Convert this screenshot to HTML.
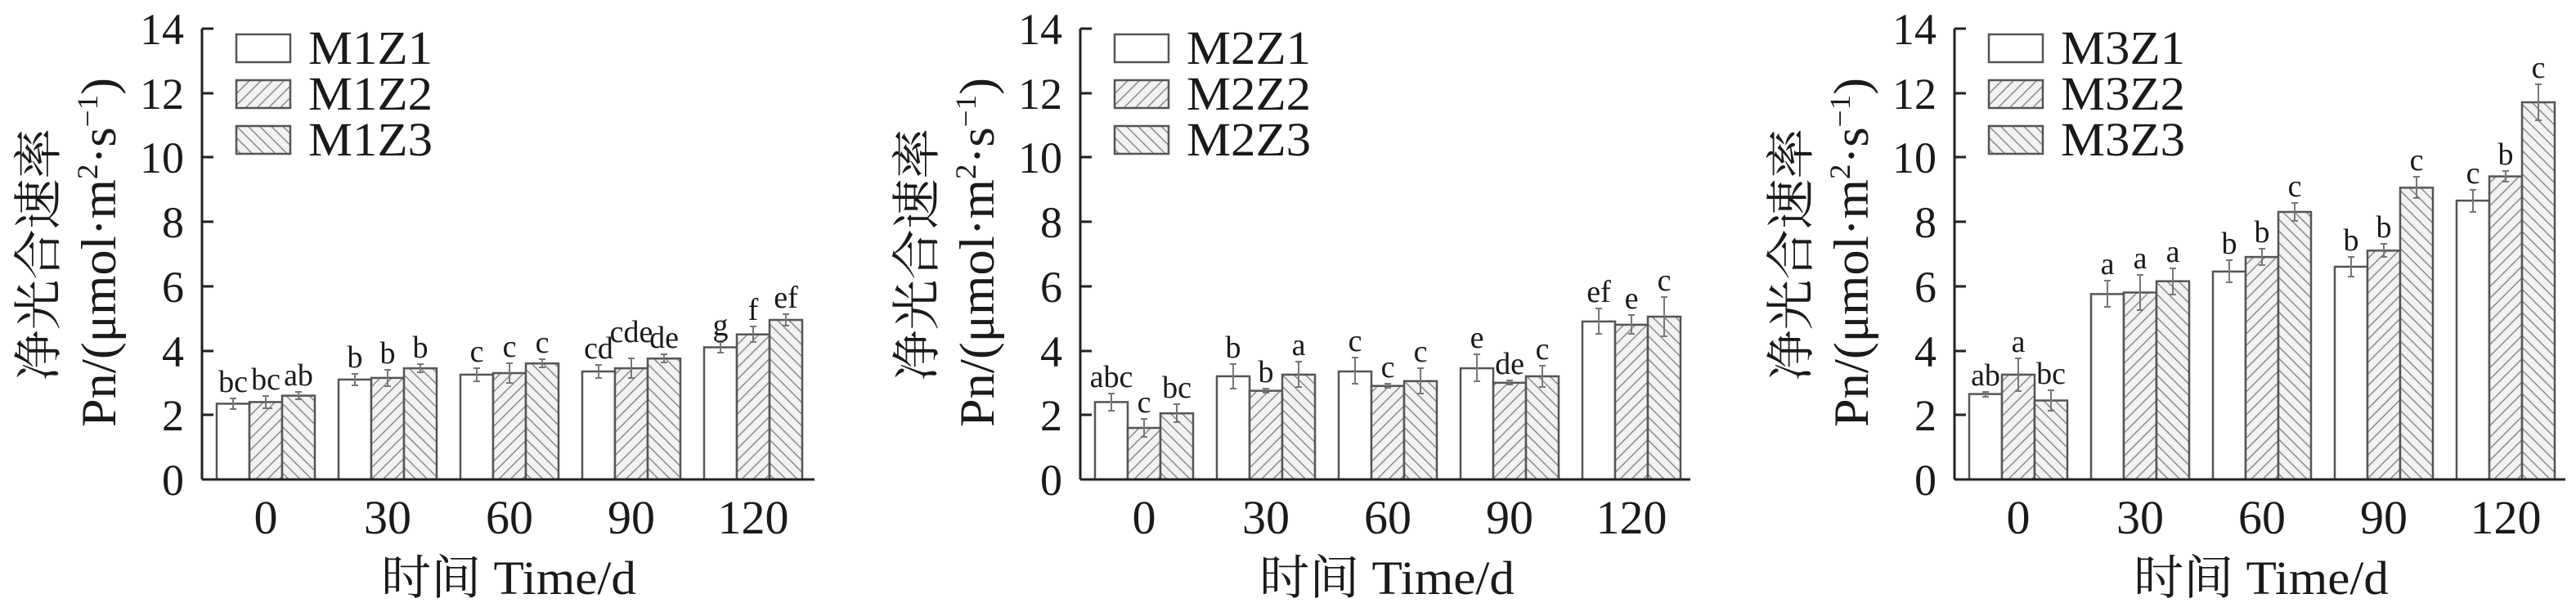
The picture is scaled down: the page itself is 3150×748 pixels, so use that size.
<!DOCTYPE html>
<html><head><meta charset="utf-8"><style>
html,body{margin:0;padding:0;background:#fff;}
svg{display:block;}
text{font-family:"Liberation Serif","Noto Serif CJK SC","Noto Sans CJK SC",serif;fill:#1a1a1a;}
.t{font-size:54px;}
.x{font-size:58px;}
.g{font-size:58px;}
.l{font-size:38px;text-anchor:middle;}
.b1{fill:#fff;stroke:#555;stroke-width:2.5;}
.b2{fill:url(#h2);stroke:#555;stroke-width:2.5;}
.b3{fill:url(#h3);stroke:#555;stroke-width:2.5;}
.e{stroke:#777;stroke-width:2;fill:none;}
.ax{stroke:#222;stroke-width:3;fill:none;}
</style></head><body>
<svg width="3150" height="748" viewBox="0 0 3150 748" xmlns="http://www.w3.org/2000/svg">
<defs>
<pattern id="h2" patternUnits="userSpaceOnUse" width="10" height="10" patternTransform="rotate(45)">
<rect width="10" height="10" fill="#f2f2f2"/><line x1="0" y1="0" x2="0" y2="10" stroke="#8a8a8a" stroke-width="3"/></pattern>
<pattern id="h3" patternUnits="userSpaceOnUse" width="10" height="10" patternTransform="rotate(-45)">
<rect width="10" height="10" fill="#f2f2f2"/><line x1="0" y1="0" x2="0" y2="10" stroke="#8a8a8a" stroke-width="3"/></pattern>
<g id="axes">
<path class="ax" d="M0,35 V586"/>
<path class="ax" d="M0,35 H14 M0,114 H14 M0,192 H14 M0,271 H14 M0,350 H14 M0,429 H14 M0,507 H14"/>
<g class="t" text-anchor="end">
<text x="-22" y="54">14</text><text x="-22" y="133">12</text><text x="-22" y="211">10</text>
<text x="-22" y="290">8</text><text x="-22" y="369">6</text><text x="-22" y="448">4</text>
<text x="-22" y="526">2</text><text x="-22" y="605">0</text></g>
<g class="x" text-anchor="middle">
<text x="78" y="652">0</text><text x="227" y="652">30</text><text x="376" y="652">60</text>
<text x="525" y="652">90</text><text x="674" y="652">120</text></g>
<text class="x" x="219" y="726" textLength="312" lengthAdjust="spacingAndGlyphs">时间 Time/d</text>
<text font-size="60" text-anchor="middle" transform="translate(-179,311) rotate(-90)" textLength="308" lengthAdjust="spacingAndGlyphs">净光合速率</text>
<text font-size="60" transform="translate(-106,522) rotate(-90)" textLength="427" lengthAdjust="spacingAndGlyphs">Pn/(μmol·m<tspan font-size="36" dy="-22">2</tspan><tspan dy="22">·s</tspan><tspan font-size="36" dy="-22">−1</tspan><tspan dy="22">)</tspan></text>
<rect class="b1" x="42" y="42" width="66" height="34"/>
<rect class="b2" x="42" y="98" width="66" height="34"/>
<rect class="b3" x="42" y="154" width="66" height="34"/>
</g>
</defs>

<!-- Panel 1 -->
<g transform="translate(247,0)">
<use href="#axes"/>
<g class="g"><text x="130" y="78" textLength="152" lengthAdjust="spacingAndGlyphs">M1Z1</text><text x="130" y="134" textLength="152" lengthAdjust="spacingAndGlyphs">M1Z2</text><text x="130" y="190" textLength="152" lengthAdjust="spacingAndGlyphs">M1Z3</text></g>
<rect class="b1" x="18" y="493.4" width="40" height="92.6"/><rect class="b2" x="58" y="491.4" width="40" height="94.6"/><rect class="b3" x="98" y="483.6" width="40" height="102.4"/>
<rect class="b1" x="167" y="463.9" width="40" height="122.1"/><rect class="b2" x="207" y="461.9" width="40" height="124.1"/><rect class="b3" x="247" y="450.1" width="40" height="135.9"/>
<rect class="b1" x="316" y="457.9" width="40" height="128.1"/><rect class="b2" x="356" y="456" width="40" height="130"/><rect class="b3" x="396" y="444.2" width="40" height="141.8"/>
<rect class="b1" x="465" y="454" width="40" height="132"/><rect class="b2" x="505" y="450.1" width="40" height="135.9"/><rect class="b3" x="545" y="438.2" width="40" height="147.8"/>
<rect class="b1" x="614" y="424.5" width="40" height="161.5"/><rect class="b2" x="654" y="408.7" width="40" height="177.3"/><rect class="b3" x="694" y="391" width="40" height="195"/>
<path class="ax" d="M0,586 H749"/>
<path class="e" d="M38,487V500M34,487H42M34,500H42 M78,484V499M74,484H82M74,499H86 M118,479V488M114,479H122M114,488H122
M187,457V471M183,457H191M183,471H191 M227,452V472M223,452H231M223,472H231 M267,445V455M263,445H271M263,455H271
M336,450V466M332,450H340M332,466H340 M376,444V468M372,444H380M372,468H380 M416,439V449M412,439H420M412,449H420
M485,446V462M481,446H489M481,462H489 M525,438V462M521,438H529M521,462H529 M565,433V443M561,433H569M561,443H569
M634,418V431M630,418H638M630,431H638 M674,399V418M670,399H678M670,418H678 M714,384V398M710,384H718M710,398H718"/>
<g class="l">
<text x="38" y="479">bc</text><text x="78" y="476">bc</text><text x="118" y="471">ab</text>
<text x="187" y="449">b</text><text x="227" y="444">b</text><text x="267" y="437">b</text>
<text x="336" y="442">c</text><text x="376" y="436">c</text><text x="416" y="431">c</text>
<text x="485" y="438">cd</text><text x="525" y="418">cde</text><text x="565" y="425">de</text>
<text x="634" y="410">g</text><text x="674" y="391">f</text><text x="714" y="376">ef</text></g>
</g>

<!-- Panel 2 -->
<g transform="translate(1321,0)">
<use href="#axes"/>
<g class="g"><text x="130" y="78" textLength="152" lengthAdjust="spacingAndGlyphs">M2Z1</text><text x="130" y="134" textLength="152" lengthAdjust="spacingAndGlyphs">M2Z2</text><text x="130" y="190" textLength="152" lengthAdjust="spacingAndGlyphs">M2Z3</text></g>
<rect class="b1" x="18" y="491.4" width="40" height="94.6"/><rect class="b2" x="58" y="523" width="40" height="63"/><rect class="b3" x="98" y="505.2" width="40" height="80.8"/>
<rect class="b1" x="167" y="459.9" width="40" height="126.1"/><rect class="b2" x="207" y="477.6" width="40" height="108.4"/><rect class="b3" x="247" y="457.9" width="40" height="128.1"/>
<rect class="b1" x="316" y="454" width="40" height="132"/><rect class="b2" x="356" y="471.7" width="40" height="114.3"/><rect class="b3" x="396" y="465.8" width="40" height="120.2"/>
<rect class="b1" x="465" y="450.1" width="40" height="135.9"/><rect class="b2" x="505" y="467.8" width="40" height="118.2"/><rect class="b3" x="545" y="459.9" width="40" height="126.1"/>
<rect class="b1" x="614" y="392.9" width="40" height="193.1"/><rect class="b2" x="654" y="396.9" width="40" height="189.1"/><rect class="b3" x="694" y="387" width="40" height="199"/>
<path class="ax" d="M0,586 H746"/>
<path class="e" d="M38,481V502M34,481H42M34,502H42 M78,512V534M74,512H82M74,534H82 M118,494V516M114,494H122M114,516H122
M187,445V475M183,445H191M183,475H191 M227,475V480M223,475H231M223,480H231 M267,442V473M263,442H271M263,473H271
M336,437V469M332,437H340M332,469H340 M376,469V474M372,469H380M372,474H380 M416,450V481M412,450H420M412,481H420
M485,433V466M481,433H489M481,466H489 M525,465V470M521,465H529M521,470H529 M565,447V473M561,447H569M561,473H569
M634,377V408M630,377H638M630,408H638 M674,385V408M670,385H678M670,408H678 M714,363V411M710,363H718M710,411H718"/>
<g class="l">
<text x="38" y="473">abc</text><text x="78" y="504">c</text><text x="118" y="486">bc</text>
<text x="187" y="437">b</text><text x="227" y="467">b</text><text x="267" y="434">a</text>
<text x="336" y="429">c</text><text x="376" y="461">c</text><text x="416" y="442">c</text>
<text x="485" y="425">e</text><text x="525" y="457">de</text><text x="565" y="439">c</text>
<text x="634" y="369">ef</text><text x="674" y="377">e</text><text x="714" y="355">c</text></g>
</g>

<!-- Panel 3 -->
<g transform="translate(2390,0)">
<use href="#axes"/>
<g class="g"><text x="130" y="78" textLength="152" lengthAdjust="spacingAndGlyphs">M3Z1</text><text x="130" y="134" textLength="152" lengthAdjust="spacingAndGlyphs">M3Z2</text><text x="130" y="190" textLength="152" lengthAdjust="spacingAndGlyphs">M3Z3</text></g>
<rect class="b1" x="18" y="481.6" width="40" height="104.4"/><rect class="b2" x="58" y="457.9" width="40" height="128.1"/><rect class="b3" x="98" y="489.5" width="40" height="96.5"/>
<rect class="b1" x="167" y="359.4" width="40" height="226.6"/><rect class="b2" x="207" y="357.5" width="40" height="228.5"/><rect class="b3" x="247" y="343.7" width="40" height="242.3"/>
<rect class="b1" x="316" y="331.9" width="40" height="254.1"/><rect class="b2" x="356" y="314.1" width="40" height="271.9"/><rect class="b3" x="396" y="259" width="40" height="327"/>
<rect class="b1" x="465" y="326" width="40" height="260"/><rect class="b2" x="505" y="306.3" width="40" height="279.7"/><rect class="b3" x="545" y="229.4" width="40" height="356.6"/>
<rect class="b1" x="614" y="245.2" width="40" height="340.8"/><rect class="b2" x="654" y="215.6" width="40" height="370.4"/><rect class="b3" x="694" y="125" width="40" height="461"/>
<path class="ax" d="M0,586 H747"/>
<path class="e" d="M38,479V485M34,479H42M34,485H42 M78,438V478M74,438H82M74,478H82 M118,477V502M114,477H122M114,502H122
M187,343V375M183,343H191M183,375H191 M227,336V379M223,336H231M223,379H231 M267,328V360M263,328H271M263,360H271
M336,318V345M332,318H340M332,345H340 M376,304V324M372,304H380M372,324H380 M416,248V270M412,248H420M412,270H420
M485,314V338M481,314H489M481,338H489 M525,298V314M521,298H529M521,314H529 M565,216V242M561,216H569M561,242H569
M634,232V259M630,232H638M630,259H638 M674,209V222M670,209H678M670,222H678 M714,103V147M710,103H718M710,147H718"/>
<g class="l">
<text x="38" y="471">ab</text><text x="78" y="430">a</text><text x="118" y="469">bc</text>
<text x="187" y="335">a</text><text x="227" y="328">a</text><text x="267" y="320">a</text>
<text x="336" y="310">b</text><text x="376" y="296">b</text><text x="416" y="240">c</text>
<text x="485" y="306">b</text><text x="525" y="290">b</text><text x="565" y="208">c</text>
<text x="634" y="224">c</text><text x="674" y="201">b</text><text x="714" y="95">c</text></g>
</g>
</svg>
</body></html>
